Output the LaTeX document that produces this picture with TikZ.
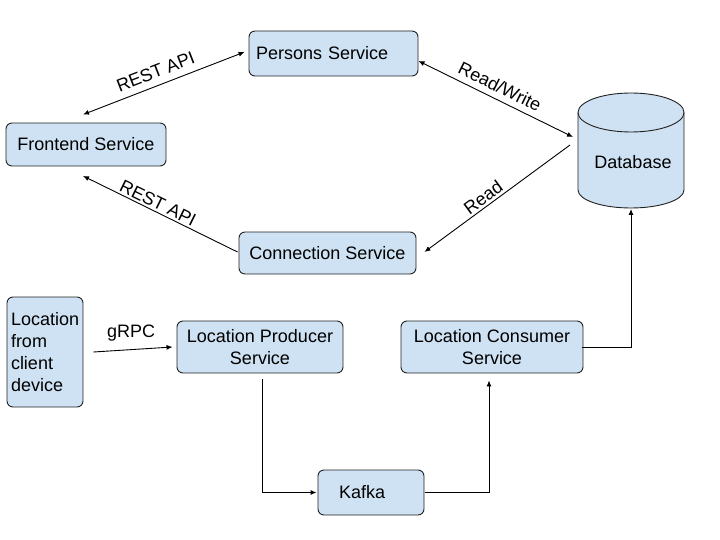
\documentclass[tikz,border=0pt]{standalone}
\usepackage{fontspec}
\setmainfont{Liberation Sans}
\usetikzlibrary{arrows.meta}
\definecolor{boxfill}{HTML}{CFE2F3}
\definecolor{edge}{HTML}{222222}
\begin{document}
\begin{tikzpicture}[x=1pt,y=-1pt,
  every node/.style={font=\fontsize{18}{22}\selectfont},
  box/.style={draw=edge, line width=0.9pt, fill=boxfill, rounded corners=6pt, inner sep=0pt, align=center},
  conn/.style={draw=black, line width=0.9pt, -{Latex[length=6pt,width=5pt]}},
  revconn/.style={draw=black, line width=0.9pt, {Latex[length=6pt,width=5pt]}-},
  biconn/.style={draw=black, line width=0.9pt, {Latex[length=6pt,width=5pt]}-{Latex[length=6pt,width=5pt]}},
  lbl/.style={inner sep=2pt, sloped}]
\useasboundingbox (0,0) rectangle (720,540);

% boxes
\node[box, text width=155pt, inner xsep=7pt, align=left, minimum height=45pt] (persons) at (333.5,53.5) {Persons Service};
\node[box, minimum width=160pt, minimum height=43pt] (frontend) at (86,144.5) {Frontend Service};
\node[box, minimum width=177pt, minimum height=42pt] (connection) at (327.5,253) {Connection Service};
\node[box, text width=68pt, inner xsep=4pt, align=left, minimum height=110pt] (device) at (45,352) {Location\\from\\client\\device};
\node[box, minimum width=166pt, minimum height=52pt] (producer) at (260,347) {Location Producer\\Service};
\node[box, minimum width=182pt, minimum height=52pt] (consumer) at (492,347) {Location Consumer\\Service};
\node[box, text width=64pt, inner xsep=21pt, align=left, minimum height=45pt] (kafka) at (371,492.5) {Kafka};

% database cylinder
\path[draw=edge, line width=0.9pt, fill=boxfill]
  (578,112.5) -- (578,190)
  .. controls (578,199.94) and (601.73,208) .. (631,208)
  .. controls (660.27,208) and (684,199.94) .. (684,190)
  -- (684,112.5)
  .. controls (684,101.73) and (660.27,93) .. (631,93)
  .. controls (601.73,93) and (578,101.73) .. (578,112.5) -- cycle;
\draw[draw=edge, line width=0.9pt]
  (578,112.5) .. controls (578,123.27) and (601.73,132) .. (631,132)
  .. controls (660.27,132) and (684,123.27) .. (684,112.5);
\node (db) at (633,162) {Database};
\coordinate (dbA) at (573,137);
\coordinate (dbB) at (570,145);
\coordinate (dbS) at (631,209);

% connectors
\draw[biconn] ([shift={(-3,-8)}]frontend.north) -- ([shift={(-4,-1.5)}]persons.west)
  node[lbl, pos=0.48, above=5pt] {REST API};
\draw[revconn] ([shift={(-3,9.5)}]frontend.south) -- ([shift={(-1,-1)}]connection.west)
  node[lbl, pos=0.46, above=0pt] {REST API};
\draw[biconn] ([shift={(0,7.5)}]persons.east) -- (dbA)
  node[lbl, pos=0.49, above=4pt] {Read/Write};
\draw[revconn] ([shift={(8,-1)}]connection.east) -- (dbB)
  node[lbl, pos=0.44, above=0pt] {Read};
\draw[conn] ([xshift=10pt]device.east) -- ([xshift=-4pt]producer.west)
  node[pos=0.475, above=6pt, inner sep=2pt] {gRPC};
\draw[conn] ([shift={(2,6)}]producer.south) |- ([xshift=-1pt]kafka.west);
\draw[conn] ([xshift=1pt]kafka.east) -| ([shift={(-3,7)}]consumer.south);
\draw[conn] ([xshift=-1pt]consumer.east) -| (dbS);
\end{tikzpicture}
\end{document}
